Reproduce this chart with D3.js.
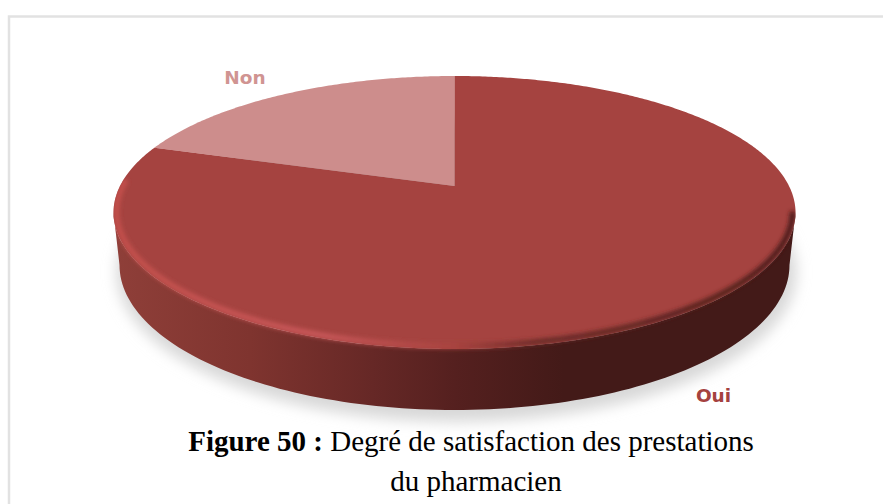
<!DOCTYPE html>
<html>
<head>
<meta charset="utf-8">
<script src="https://cdn.jsdelivr.net/npm/d3@7"></script>
<style>
    html, body { margin: 0; padding: 0; background: #fff; }
    svg { display: block; }
</style>
</head>
<body>
<div id="chart"></div>
<script>
// values
var categories = ["Non", "Oui"];
var shares = [20, 80];
var sliceColors = ["#cd8d8c", "#a54340"];
var labelColors = ["#d09492", "#a5423f"];

var width = 883,
    height = 504;

// top face and base of the disc, drawn as ellipses seen in perspective
var cx = 454.5, cy = 212.5, rx = 341, ry = 136.5;
var baseCy = 265, baseRx = 335, baseRy = 145;
var k = (186 - cy) / ry; // apex of the pie sits above the ellipse centre

var svg = d3.select("#chart").append("svg")
    .attr("width", width)
    .attr("height", height);

var defs = svg.append("defs");

defs.append("filter").attr("id", "blurShadow")
    .attr("x", "-10%").attr("y", "-10%").attr("width", "120%").attr("height", "120%")
    .append("feGaussianBlur").attr("stdDeviation", 7);
defs.append("filter").attr("id", "blurRim")
    .attr("x", "-10%").attr("y", "-10%").attr("width", "120%").attr("height", "120%")
    .append("feGaussianBlur").attr("stdDeviation", 2.2);

var wallStops = [
    [0, "#8f3f39"], [0.2, "#7f342f"], [0.38, "#662826"],
    [0.5, "#55201f"], [0.66, "#431a18"], [1, "#431a18"]
];
var wallGrad = defs.append("linearGradient").attr("id", "wallGrad")
    .attr("x1", "0").attr("x2", "1").attr("y1", "0").attr("y2", "0");
wallStops.forEach(function (s) {
    wallGrad.append("stop").attr("offset", s[0]).attr("stop-color", s[1]);
});

var rimGrad = defs.append("linearGradient").attr("id", "rimGrad")
    .attr("gradientUnits", "userSpaceOnUse")
    .attr("x1", cx - rx).attr("x2", cx + rx).attr("y1", 0).attr("y2", 0);
[[0, "#c4504c"], [0.3, "#c9585a"], [0.5, "#a9433f"], [0.62, "#6a2a27"], [1, "#4a1d1a"]].forEach(function (s) {
    rimGrad.append("stop").attr("offset", s[0]).attr("stop-color", s[1]);
});

// screen position of an angle on the pie (0 = top, clockwise)
function project(a) {
    var u = Math.sin(a), v = -Math.cos(a);
    var d = 1 + k * v;
    return [cx + rx * u * Math.sqrt(1 - k * k) / d, cy + ry * (v + k) / d];
}

var ellipsePoint = function (a, c, rxx, ryy) {
    return [cx + rxx * Math.cos(a), c + ryy * Math.sin(a)];
};

var line = d3.line();

// drop shadow under the disc
svg.append("ellipse")
    .attr("cx", cx + 2).attr("cy", baseCy + 7)
    .attr("rx", baseRx + 5).attr("ry", baseRy + 5)
    .attr("fill", "#d8d8d8")
    .attr("filter", "url(#blurShadow)");

// side wall
var lower = d3.range(0, Math.PI + 0.001, Math.PI / 120);
var wallPts = lower.map(function (a) { return ellipsePoint(a, cy, rx, ry); })
    .concat(lower.slice().reverse().map(function (a) { return ellipsePoint(a, baseCy, baseRx, baseRy); }));
var wallPath = line(wallPts) + "Z";
svg.append("path")
    .attr("d", wallPath)
    .attr("fill", "url(#wallGrad)");

// slices
var pie = d3.pie().sort(null).startAngle(-2 * shares[0] / 100 * Math.PI).endAngle(2 * Math.PI - 2 * shares[0] / 100 * Math.PI);
var arcs = pie(shares);

var sliceG = svg.append("g");
arcs.forEach(function (d, i) {
    var steps = d3.range(d.startAngle, d.endAngle, 0.01).concat([d.endAngle]);
    var pts = [[cx, 186]].concat(steps.map(project));
    sliceG.append("path")
        .attr("d", line(pts) + "Z")
        .attr("fill", sliceColors[i]);
});

// keep the soft rim from spilling on the white background
var clip = defs.append("clipPath").attr("id", "discClip");
clip.append("path").attr("d", wallPath);
clip.append("ellipse").attr("cx", cx).attr("cy", cy).attr("rx", rx).attr("ry", ry);

// lit rim along the lower edge of the top face
var rimAngles = d3.range(0, Math.PI + 0.24, 0.01);
svg.append("g")
    .attr("clip-path", "url(#discClip)")
    .append("path")
    .attr("d", line(rimAngles.map(function (a) { return ellipsePoint(a, cy - 1, rx - 3, ry - 2); })))
    .attr("fill", "none")
    .attr("stroke", "url(#rimGrad)")
    .attr("stroke-width", 5.5)
    .attr("filter", "url(#blurRim)");

// slice labels
var labelX = [245, 713.5], labelY = [78, 396];
svg.selectAll(".slice-label")
    .data(categories)
    .enter()
    .append("text")
    .attr("class", "slice-label")
    .attr("x", function (d, i) { return labelX[i]; })
    .attr("y", function (d, i) { return labelY[i]; })
    .attr("dy", "0.35em")
    .attr("text-anchor", "middle")
    .attr("font-family", "'DejaVu Sans', sans-serif")
    .attr("font-weight", "bold")
    .attr("font-size", 18.5)
    .attr("fill", function (d, i) { return labelColors[i]; })
    .text(function (d) { return d; });

// caption
var caption = svg.append("text")
    .attr("x", 471).attr("y", 451)
    .attr("text-anchor", "middle")
    .attr("font-family", "'Liberation Serif', serif")
    .attr("font-size", 29)
    .attr("fill", "#000");
caption.append("tspan").attr("font-weight", "bold").text("Figure 50 : ");
caption.append("tspan").text("Degré de satisfaction des prestations");
svg.append("text")
    .attr("x", 476).attr("y", 491)
    .attr("text-anchor", "middle")
    .attr("font-family", "'Liberation Serif', serif")
    .attr("font-size", 29)
    .attr("fill", "#000")
    .text("du pharmacien");

// frame, only top and left show in the picture
svg.append("path")
    .attr("d", "M9,504V16.5H883")
    .attr("fill", "none")
    .attr("stroke", "#e2e2e2")
    .attr("stroke-width", 2.5);
</script>
</body>
</html>
